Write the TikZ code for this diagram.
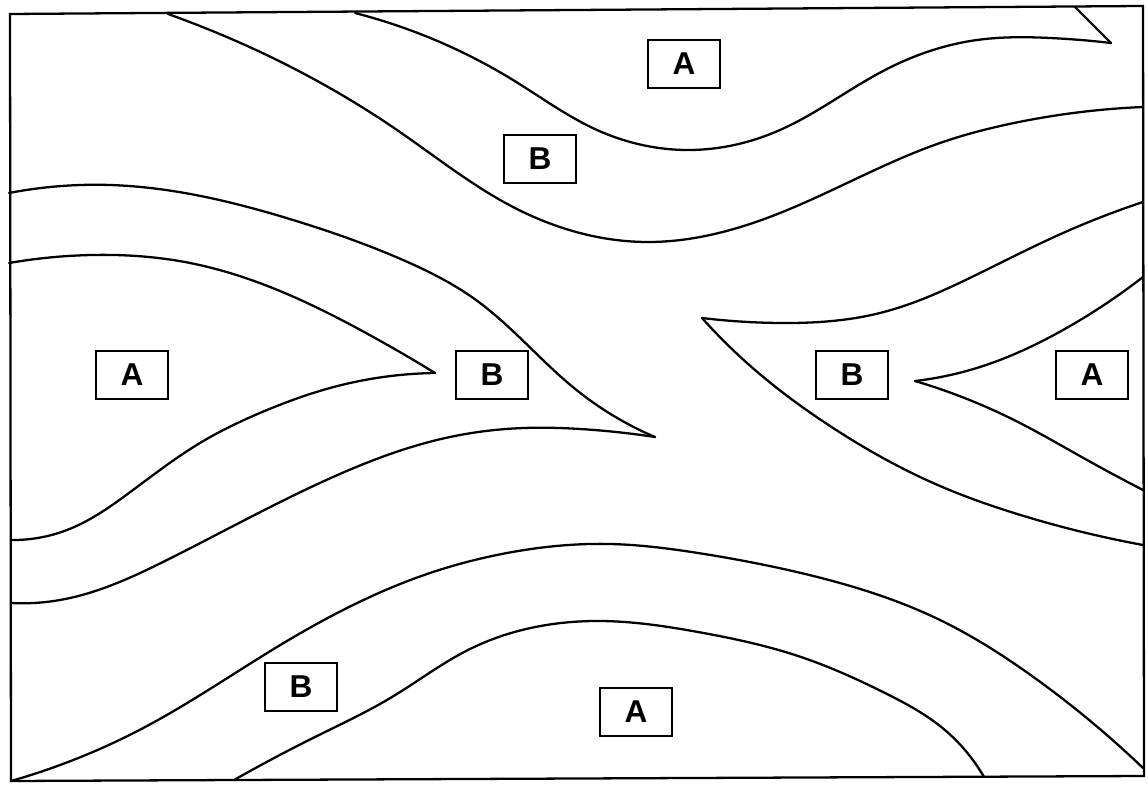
\documentclass[tikz,border=0pt]{standalone}
\usepackage{fontspec}
\setmainfont{Liberation Sans}
\usetikzlibrary{positioning,hobby}

\begin{document}
\begin{tikzpicture}[
    x=0.02cm, y=-0.02cm,
    use Hobby shortcut,
    zone/.style={draw, line width=1.1pt, fill=white, minimum width=1.44cm, minimum height=0.96cm, inner sep=0pt, font=\fontsize{18}{20}\selectfont\bfseries},
    contour/.style={line width=1.3pt, line join=round, line cap=round},
    frame/.style={line width=1.3pt}
]
\useasboundingbox (0,0) rectangle (1148,786);

% outer frame
\draw[frame] (10,14) -- (1143,6) -- (1144,776) -- (11,781) -- cycle;

% top band
\draw[contour] (168,14) .. (256,50) .. (397,130) .. (513,207) .. (647,242) .. (780,213) .. (940,143) .. (1014,123) .. (1143,107);
\draw[contour] (355,13) .. (513,80) .. (597,130) .. (690,150) .. (780,130) .. (885,70) .. (977,40) .. (1050,38) .. (1111,43);
\draw[contour] (1111,43) -- (1075,7);

% left tongue, outer
\draw[contour] (9,193) .. (110,185) .. (293,220) .. (403,260) .. (476,300) .. (574,388) .. (655,437);
\draw[contour] (655,437) .. (580,429) .. (524,428) .. (450,437) .. (333,477) .. (167,560) .. (60,600) .. (11,603);

% left tongue, inner
\draw[contour] (9,263) .. (92,255) .. (190,263) .. (366,333) .. (435,373);
\draw[contour] (435,373) .. (330,388) .. (267,410) .. (200,443) .. (133,490) .. (67,530) .. (11,540);

% right tongue, outer
\draw[contour] (1143,202) .. (1063,233) .. (980,273) .. (880,313) .. (780,323) .. (702,318);
\draw[contour] (702,318) .. (747,363) .. (830,426) .. (940,486) .. (1014,513) .. (1143,545);

% right tongue, inner
\draw[contour] (1143,277) .. (1063,330) .. (980,367) .. (915,381);
\draw[contour] (915,381) .. (1014,420) .. (1087,460) .. (1143,490);

% bottom band
\draw[contour] (11,781) .. (147,726) .. (277,647) .. (430,573) .. (507,553) .. (610,544) .. (698,553) .. (801,573) .. (940,620) .. (1032,676) .. (1143,768);
\draw[contour] (234,780) .. (315,737) .. (392,697) .. (468,650) .. (600,621) .. (698,632) .. (801,657) .. (885,693) .. (940,726) .. (984,777);

% labels
\node[zone] (aTop) at (684,64) {A};
\node[zone] (bTop) at (540,159) {B};
\node[zone] (aLeft) at (132,375) {A};
\node[zone] (bLeft) at (492,375) {B};
\node[zone] (bRight) at (852,375) {B};
\node[zone] (aRight) at (1092,375) {A};
\node[zone] (bLow) at (301,687) {B};
\node[zone] (aLow) at (636,712) {A};
\end{tikzpicture}
\end{document}
